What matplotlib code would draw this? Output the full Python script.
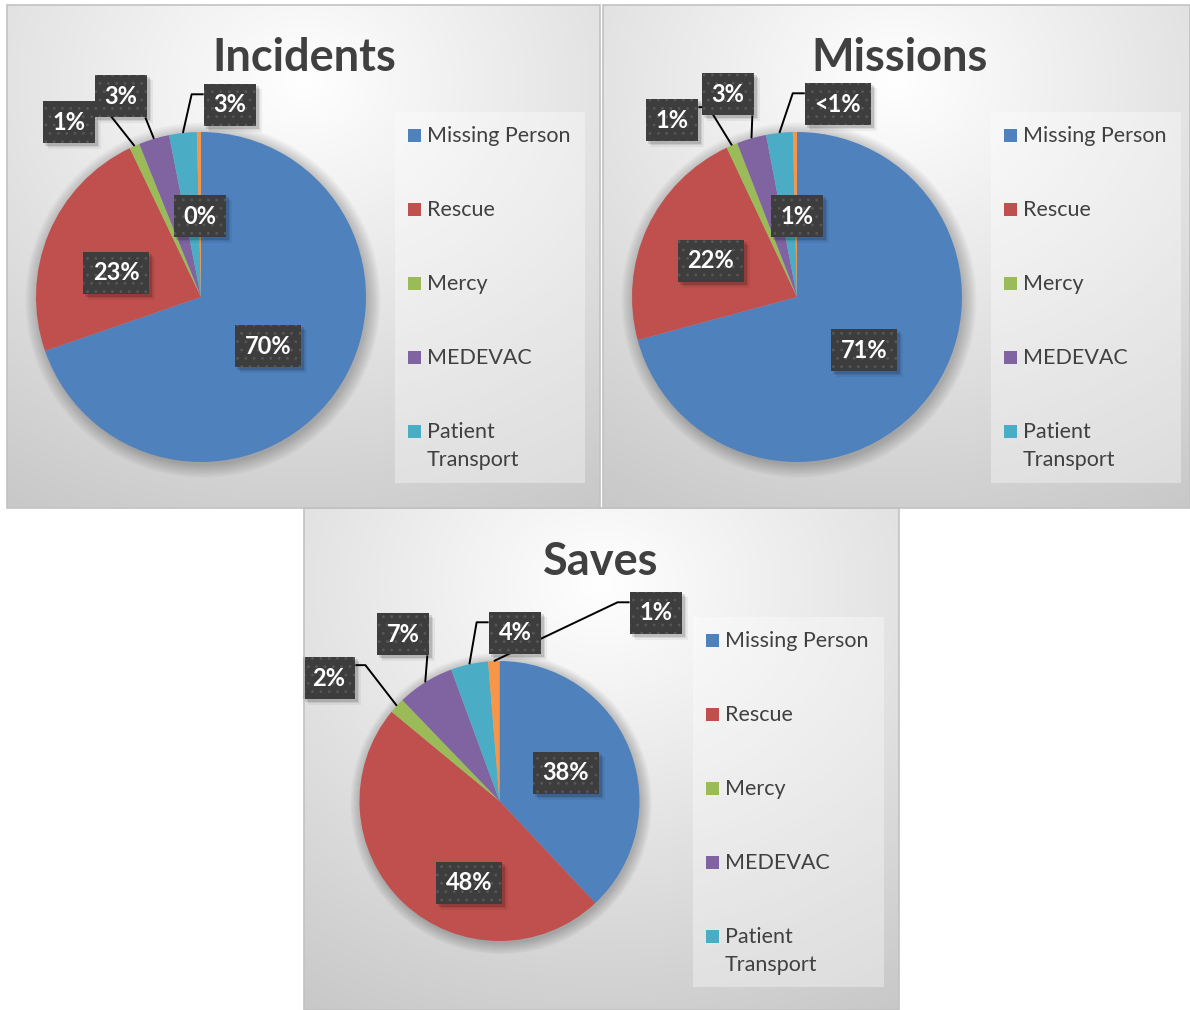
import matplotlib.pyplot as plt
import numpy as np
from matplotlib.patches import Rectangle, Circle

plt.rcParams['font.family'] = ['Lato', 'DejaVu Sans']
plt.rcParams['hatch.linewidth'] = 0.8

categories = ['Missing Person', 'Rescue', 'Mercy', 'MEDEVAC', 'Patient\nTransport', 'Other']
colors = ['#4F81BD', '#C0504D', '#9BBB59', '#8064A2', '#4BACC6', '#F79646']

incidents = [69.7, 23.2, 1.0, 3.0, 2.7, 0.4]
incidents_text = ['70%', '23%', '1%', '3%', '3%', '0%']
missions = [70.8, 22.2, 1.1, 2.9, 2.6, 0.4]
missions_text = ['71%', '22%', '1%', '3%', '<1%', '1%']
saves = [38.0, 48.0, 1.8, 6.6, 4.3, 1.3]
saves_text = ['38%', '48%', '2%', '7%', '4%', '1%']

W, H = 1190, 1010
TEXT = '#404040'

# layout in pixels: panel box, pie centre/radius, title, legend box, label centres
panels = [
    dict(title='Incidents', values=incidents, text=incidents_text,
         box=(7, 5, 600, 508), centre=(201, 297), r=165, title_xy=(304, 58),
         legend=(395, 112, 585, 483),
         label_xy=[(268, 346), (116, 273), (69, 122), (121, 96), (230, 105), (200, 216)],
         leader=[None, None, 'right', 'down', 'left', None]),
    dict(title='Missions', values=missions, text=missions_text,
         box=(603, 5, 1190, 508), centre=(797, 297), r=165, title_xy=(900, 58),
         legend=(991, 112, 1181, 483),
         label_xy=[(864, 350), (711, 261), (672, 120), (728, 94), (838, 104), (797, 216)],
         leader=[None, None, 'right', 'down', 'left', None]),
    dict(title='Saves', values=saves, text=saves_text,
         box=(304, 508, 899, 1010), centre=(499.5, 801), r=140, title_xy=(601, 562),
         legend=(693, 617, 884, 987),
         label_xy=[(566, 773), (469, 883), (329, 678), (403, 634), (515, 633), (656, 613)],
         leader=[None, None, 'right', 'down', 'left', 'left']),
]


def gradient(w, h):
    yy, xx = np.mgrid[0:h, 0:w]
    d = np.sqrt(((xx / w) - 0.5) ** 2 + ((yy / h) - 0.15) ** 2)
    v = 1.0 - 0.22 * np.clip(d, 0, 1.1)
    return np.dstack([v, v, v])


fig = plt.figure(figsize=(W / 100, H / 100), dpi=100)

labels_to_link = []
for p in panels:
    x0, y0, x1, y1 = p['box']
    cx, cy = p['centre']
    r = p['r']

    def to_data(px, py, cx=cx, cy=cy, r=r):
        return (px - cx) / r, (cy - py) / r

    ax = fig.add_axes([x0 / W, 1 - y1 / H, (x1 - x0) / W, (y1 - y0) / H])
    xlim = ((x0 - cx) / r, (x1 - cx) / r)
    ylim = ((cy - y1) / r, (cy - y0) / r)
    ax.imshow(gradient(x1 - x0, y1 - y0), extent=(*xlim, *ylim), origin='upper',
              aspect='auto', zorder=0)

    # soft shadow under the pie
    for k in range(12):
        ax.add_patch(Circle((0.012, -0.018), 1 + 0.007 * k, fc='black', lw=0,
                            alpha=0.02, zorder=0.5))

    wedges, _ = ax.pie(p['values'], colors=colors, startangle=90, counterclock=False,
                       radius=1, wedgeprops=dict(linewidth=0))
    ax.set_xlim(xlim)
    ax.set_ylim(ylim)
    ax.set_aspect('equal')
    ax.axis('off')

    ax.text(*to_data(*p['title_xy']), p['title'], fontsize=32.5, fontweight='bold',
            color=TEXT, ha='center', va='center')

    # legend (first five series only, like the original)
    lx0, ly0, lx1, ly1 = p['legend']
    ax.add_patch(Rectangle(to_data(lx0, ly1), (lx1 - lx0) / r, (ly1 - ly0) / r,
                           fc='white', alpha=0.35, lw=0, zorder=2))
    for i in range(5):
        ey = ly0 + 23 + 74 * i
        ax.add_patch(Rectangle(to_data(lx0 + 13, ey + 7), 13 / r, 13 / r,
                               fc=colors[i], lw=0, zorder=3))
        ax.text(*to_data(lx0 + 32, ey - 9), categories[i], fontsize=15.5, color=TEXT,
                ha='left', va='top', linespacing=1.5, zorder=3)

    # data labels
    for i, (lab, xy) in enumerate(zip(p['text'], p['label_xy'])):
        t = ax.text(*to_data(*xy), lab, fontsize=17, fontweight='bold', color='white',
                    ha='center', va='center', zorder=6,
                    bbox=dict(boxstyle='square,pad=0.42', fc='#3d3d3d', ec='#575757',
                              lw=0, hatch='..'))
        if p['leader'][i]:
            labels_to_link.append((ax, t, wedges[i], p['leader'][i]))
        else:
            labels_to_link.append((ax, t, None, None))

fig.canvas.draw()
renderer = fig.canvas.get_renderer()
for ax, t, w, side in labels_to_link:
    bb = t.get_bbox_patch().get_window_extent(renderer)
    inv = ax.transData.inverted()
    (bx0, by0), (bx1, by1) = inv.transform([(bb.x0, bb.y0), (bb.x1, bb.y1)])
    step = 10 / (ax.transData.transform((1, 0))[0] - ax.transData.transform((0, 0))[0])
    # soft drop shadow behind the label box
    for k, a in enumerate([0.12, 0.08, 0.05]):
        o = (0.25 + 0.15 * k) * step
        ax.add_patch(Rectangle((bx0 + o, by0 - o), bx1 - bx0, by1 - by0,
                               fc='black', alpha=a, lw=0, zorder=5.5))
    if w is None:
        continue
    th = np.deg2rad((w.theta1 + w.theta2) / 2)
    end = (np.cos(th), np.sin(th))
    hgt = by1 - by0
    if side == 'right':
        sy = by1 - 0.2 * hgt
        xs, ys = [bx1, bx1 + step, end[0]], [sy, sy, end[1]]
    elif side == 'left':
        sy = by1 - 0.25 * hgt
        xs, ys = [bx0, bx0 - 1.2 * step, end[0]], [sy, sy, end[1]]
    else:
        xs, ys = [bx1 - 0.2 * step, end[0]], [by0, end[1]]
    ax.plot(xs, ys, color='black', lw=1.4, zorder=5, solid_capstyle='butt')

for p in panels:
    x0, y0, x1, y1 = p['box']
    fig.add_artist(Rectangle((x0 / W, 1 - y1 / H), (x1 - x0) / W, (y1 - y0) / H,
                             transform=fig.transFigure, fill=False, ec='#c2c2c2', lw=1.2))

fig.savefig('out.png', dpi=100)
